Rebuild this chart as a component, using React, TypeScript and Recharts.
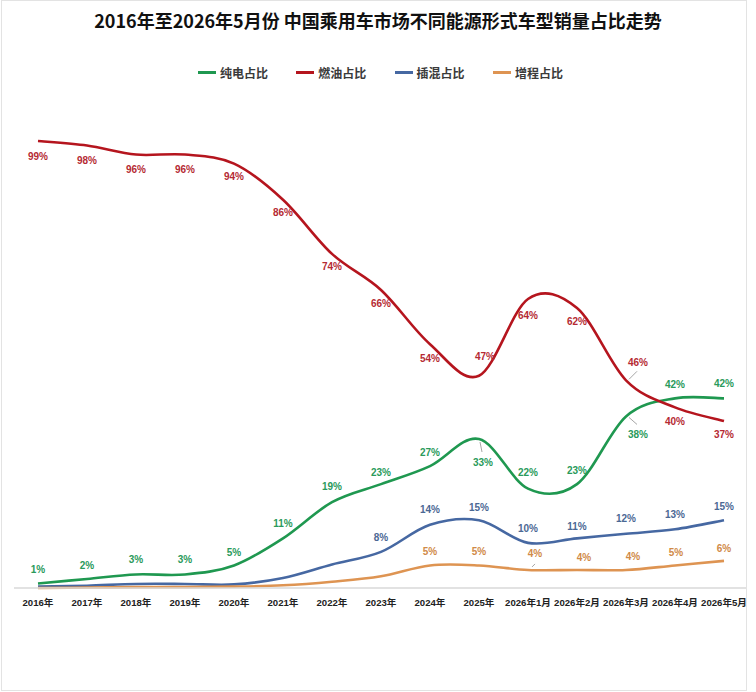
import { LineChart, Line, XAxis, YAxis, LabelList } from "recharts";

const categories = [
  "2016年", "2017年", "2018年", "2019年", "2020年", "2021年", "2022年", "2023年",
  "2024年", "2025年", "2026年1月", "2026年2月", "2026年3月", "2026年4月", "2026年5月",
];
// share of passenger car sales, %
const bevShare = [1, 2, 3, 3, 5, 11, 19, 23, 27, 33, 22, 23, 38, 42, 42];
const iceShare = [99, 98, 96, 96, 94, 86, 74, 66, 54, 47, 64, 62, 46, 40, 37];
const phevShare = [0.3, 0.5, 0.9, 0.9, 0.8, 2.2, 5.2, 8, 14, 15, 10, 11, 12, 13, 15];
const erevShare = [0, 0.1, 0.2, 0.2, 0.3, 0.6, 1.4, 2.6, 5, 5, 4, 4, 4, 5, 6];

const title = "2016年至2026年5月份 中国乘用车市场不同能源形式车型销量占比走势";

const series = [
  { key: "bev", name: "纯电占比", line: "#1f9850", text: "#2a9a5b" },
  { key: "ice", name: "燃油占比", line: "#b5151e", text: "#b52a33" },
  { key: "phev", name: "插混占比", line: "#4668a2", text: "#4b6894" },
  { key: "erev", name: "增程占比", line: "#de9452", text: "#d08a48" },
];

const data = categories.map((c, i) => ({
  cat: c,
  bev: bevShare[i],
  ice: iceShare[i],
  phev: phevShare[i],
  erev: erevShare[i],
}));

// label placement relative to the point: [dx, dy], null = no label
const bevLabelPos = [
  [0, -14], [0, -13], [0, -15], [0, -15], [0, -13], [0, -15], [0, -16], [0, -12],
  [0, -14], [4, 23], [0, -16], [0, -14], [12, 18], [0, -14], [0, -15],
];
const iceLabelPos = [
  [0, 15], [0, 15], [0, 15], [0, 15], [0, 13], [0, 13], [0, 13], [0, 13],
  [0, 14], [6, -19], [0, 16], [0, 13], [12, -18], [0, 14], [0, 14],
];
const phevLabelPos = [
  null, null, null, null, null, null, null, [0, -14],
  [0, -15], [0, -13], [0, -14], [0, -12], [0, -15], [0, -15], [0, -14],
];
const erevLabelPos = [
  null, null, null, null, null, null, null, null,
  [0, -14], [0, -14], [7, -16], [7, -12], [7, -13], [1, -13], [0, -12],
];
// small grey leader lines, [x1, y1, x2, y2] relative to the point
const bevLeaders = { 9: [1, 3, 3, 13], 12: [3, 1, 11, 8] };
const iceLeaders = { 12: [3, -1, 11, -9] };
const erevLeaders = { 10: [4, -3, 7, -6] };

// Excel-style smoothed line (uniform Catmull-Rom as bezier segments)
const excelSmooth = (context: any) => {
  let pts: number[][] = [];
  return {
    areaStart() {},
    areaEnd() {},
    lineStart() {
      pts = [];
    },
    point(x: number, y: number) {
      pts.push([+x, +y]);
    },
    lineEnd() {
      const n = pts.length;
      if (!n) return;
      context.moveTo(pts[0][0], pts[0][1]);
      for (let i = 0; i < n - 1; i++) {
        const p0 = pts[Math.max(i - 1, 0)];
        const p1 = pts[i];
        const p2 = pts[i + 1];
        const p3 = pts[Math.min(i + 2, n - 1)];
        context.bezierCurveTo(
          p1[0] + (p2[0] - p0[0]) / 6,
          p1[1] + (p2[1] - p0[1]) / 6,
          p2[0] - (p3[0] - p1[0]) / 6,
          p2[1] - (p3[1] - p1[1]) / 6,
          p2[0],
          p2[1]
        );
      }
    },
  };
};

const labelFont = "'Liberation Sans', Arial, sans-serif";

function makeLabel(color: string, pos: any[], leaders: Record<number, number[]>) {
  return (props: any) => {
    const { index, value } = props;
    const x = props.x ?? props.viewBox?.x;
    const y = props.y ?? props.viewBox?.y;
    const p = pos[index];
    if (!p || x == null || y == null) return null;
    const l = leaders[index];
    return (
      <g key={`lbl-${color}-${index}`}>
        {l && (
          <line x1={x + l[0]} y1={y + l[1]} x2={x + l[2]} y2={y + l[3]} stroke="#a6a6a6" strokeWidth={1} />
        )}
        <text
          x={x + p[0]}
          y={y + p[1]}
          textAnchor="middle"
          dominantBaseline="central"
          fill={color}
          fontSize={10}
          fontWeight="bold"
          fontFamily={labelFont}
        >
          {Math.round(value)}%
        </text>
      </g>
    );
  };
}

const labelPos: Record<string, any[]> = { bev: bevLabelPos, ice: iceLabelPos, phev: phevLabelPos, erev: erevLabelPos };
const leaderMap: Record<string, Record<number, number[]>> = { bev: bevLeaders, ice: iceLeaders, phev: {}, erev: erevLeaders };

export default function App() {
  return (
    <div style={{ position: "absolute", left: 0, top: 0, width: 756, height: 692, background: "#fff" }}>
      <div
        style={{
          position: "absolute",
          left: 1,
          top: 0,
          width: 744,
          height: 689,
          border: "1px solid #e3e3e3",
        }}
      />
      <div
        style={{
          position: "absolute",
          left: 0,
          top: 8,
          width: 756,
          textAlign: "center",
          fontFamily: "'Noto Sans CJK SC', sans-serif",
          fontWeight: "bold",
          fontSize: 18,
          lineHeight: "24px",
          color: "#111",
        }}
      >
        {title}
      </div>
      {series.map((s, i) => (
        <div
          key={s.key}
          style={{
            position: "absolute",
            left: 198 + i * 98.3,
            top: 63,
            height: 18,
            display: "flex",
            alignItems: "center",
            fontFamily: "'Noto Sans CJK SC', sans-serif",
            fontWeight: "bold",
            fontSize: 12,
            color: "#3a3a3a",
          }}
        >
          <span style={{ display: "inline-block", width: 18, height: 3, background: s.line, marginRight: 4 }} />
          {s.name}
        </div>
      ))}
      <div style={{ position: "absolute", left: 0, top: 0 }}>
        <LineChart width={756} height={692} data={data} margin={{ top: 136.5, right: 10, bottom: 74, left: 14 }}>
          <XAxis
            dataKey="cat"
            height={30}
            padding={{ left: 24, right: 22 }}
            interval={0}
            tickLine={false}
            tickMargin={5}
            axisLine={{ stroke: "#d9d9d9", strokeWidth: 1.5 }}
            tick={{ fontSize: 9.6, fontWeight: "bold", fill: "#222", fontFamily: "'Liberation Sans', 'Noto Sans CJK SC', sans-serif" }}
          />
          <YAxis hide domain={[0, 100]} />
          {series.map((s) => (
            <Line
              key={s.key}
              dataKey={s.key}
              name={s.name}
              type={excelSmooth as any}
              stroke={s.line}
              strokeWidth={2.6}
              dot={false}
              activeDot={false}
              isAnimationActive={false}
            >
              <LabelList dataKey={s.key} content={makeLabel(s.text, labelPos[s.key], leaderMap[s.key])} />
            </Line>
          ))}
        </LineChart>
      </div>
    </div>
  );
}
